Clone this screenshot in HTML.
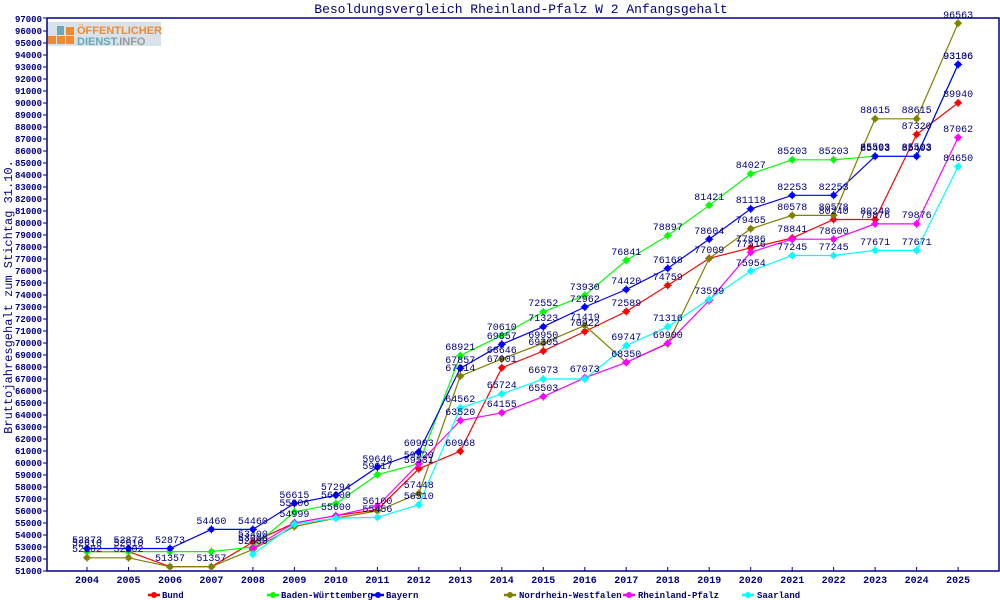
<!DOCTYPE html>
<html><head><meta charset="utf-8"><style>
body{margin:0;background:#fff}
svg{display:block}
text{font-family:"Liberation Mono",monospace;fill:#000080}
.v{font-size:10px;text-anchor:middle}
</style></head><body>
<svg width="1000" height="600" viewBox="0 0 1000 600" xmlns="http://www.w3.org/2000/svg">
<defs>
<marker id="mr" markerUnits="userSpaceOnUse" markerWidth="12" markerHeight="12" refX="6" refY="6"><circle cx="6" cy="6" r="3" fill="#f00"/><path d="M6 2V10M2 6H10" stroke="#f00" stroke-width="1.2"/></marker>
<marker id="mg" markerUnits="userSpaceOnUse" markerWidth="12" markerHeight="12" refX="6" refY="6"><circle cx="6" cy="6" r="3" fill="#0f0"/><path d="M6 2V10M2 6H10" stroke="#0f0" stroke-width="1.2"/></marker>
<marker id="mb" markerUnits="userSpaceOnUse" markerWidth="12" markerHeight="12" refX="6" refY="6"><circle cx="6" cy="6" r="3" fill="#00f"/><path d="M6 2V10M2 6H10" stroke="#00f" stroke-width="1.2"/></marker>
<marker id="mo" markerUnits="userSpaceOnUse" markerWidth="12" markerHeight="12" refX="6" refY="6"><circle cx="6" cy="6" r="3" fill="#808000"/><path d="M6 2V10M2 6H10" stroke="#808000" stroke-width="1.2"/></marker>
<marker id="mm" markerUnits="userSpaceOnUse" markerWidth="12" markerHeight="12" refX="6" refY="6"><circle cx="6" cy="6" r="3" fill="#f0f"/><path d="M6 2V10M2 6H10" stroke="#f0f" stroke-width="1.2"/></marker>
<marker id="mc" markerUnits="userSpaceOnUse" markerWidth="12" markerHeight="12" refX="6" refY="6"><circle cx="6" cy="6" r="3" fill="#0ff"/><path d="M6 2V10M2 6H10" stroke="#0ff" stroke-width="1.2"/></marker>
</defs>
<text x="521" y="13" style="font-size:13px" text-anchor="middle">Besoldungsvergleich Rheinland-Pfalz W 2 Anfangsgehalt</text>
<text transform="translate(12,297) rotate(-90)" style="font-size:12px" text-anchor="middle">Bruttojahresgehalt zum Stichtag 31.10.</text>
<rect x="47" y="22" width="114" height="24" fill="#d8e2ea"/>
<rect x="48" y="36" width="8" height="8" fill="#f08a30"/><rect x="57" y="36" width="8" height="8" fill="#f08a30"/><rect x="66" y="36" width="8" height="8" fill="#f08a30"/><rect x="66" y="27" width="8" height="8" fill="#f08a30"/><rect x="57" y="26" width="7" height="9" fill="#6aa8b8"/>
<text x="77" y="34" style="font-family:'Liberation Sans',sans-serif;font-size:11px;font-weight:bold;fill:#f08a30">ÖFFENTLICHER</text>
<text x="77" y="45" style="font-family:'Liberation Sans',sans-serif;font-size:11px;font-weight:bold;fill:#6aa8b8">DIENST.<tspan style="fill:#999">INFO</tspan></text>
<rect x="47" y="18" width="952" height="553" fill="none" stroke="#000080" stroke-width="1.5"/>
<g stroke="#000080" stroke-width="1">
<path d="M43 571H47M43 559H47M43 547H47M43 535H47M43 523H47M43 511H47M43 499H47M43 487H47M43 475H47M43 463H47M43 451H47M43 439H47M43 427H47M43 415H47M43 403H47M43 391H47M43 379H47M43 367H47M43 355H47M43 343H47M43 331H47M43 319H47M43 307H47M43 295H47M43 283H47M43 271H47M43 259H47M43 247H47M43 235H47M43 223H47M43 211H47M43 199H47M43 187H47M43 175H47M43 163H47M43 151H47M43 139H47M43 127H47M43 115H47M43 103H47M43 91H47M43 79H47M43 67H47M43 55H47M43 43H47M43 31H47M43 18H47"/>
<path d="M87 567V571M128.5 567V571M170 567V571M211.4 567V571M252.9 567V571M294.4 567V571M335.9 567V571M377.4 567V571M418.8 567V571M460.3 567V571M501.8 567V571M543.3 567V571M584.8 567V571M626.2 567V571M667.7 567V571M709.2 567V571M750.7 567V571M792.2 567V571M833.6 567V571M875.1 567V571M916.6 567V571M958.1 567V571"/>
</g>
<g style="font-size:9px;font-weight:bold" text-anchor="end">
<text x="42" y="574">51000</text><text x="42" y="562">52000</text><text x="42" y="550">53000</text><text x="42" y="538">54000</text><text x="42" y="526">55000</text><text x="42" y="514">56000</text><text x="42" y="502">57000</text><text x="42" y="490">58000</text><text x="42" y="478">59000</text><text x="42" y="466">60000</text><text x="42" y="454">61000</text><text x="42" y="442">62000</text><text x="42" y="430">63000</text><text x="42" y="418">64000</text><text x="42" y="406">65000</text><text x="42" y="394">66000</text><text x="42" y="382">67000</text><text x="42" y="370">68000</text><text x="42" y="358">69000</text><text x="42" y="346">70000</text><text x="42" y="334">71000</text><text x="42" y="322">72000</text><text x="42" y="310">73000</text><text x="42" y="298">74000</text><text x="42" y="286">75000</text><text x="42" y="274">76000</text><text x="42" y="262">77000</text><text x="42" y="250">78000</text><text x="42" y="238">79000</text><text x="42" y="226">80000</text><text x="42" y="214">81000</text><text x="42" y="202">82000</text><text x="42" y="190">83000</text><text x="42" y="178">84000</text><text x="42" y="166">85000</text><text x="42" y="154">86000</text><text x="42" y="142">87000</text><text x="42" y="130">88000</text><text x="42" y="118">89000</text><text x="42" y="106">90000</text><text x="42" y="94">91000</text><text x="42" y="82">92000</text><text x="42" y="70">93000</text><text x="42" y="58">94000</text><text x="42" y="46">95000</text><text x="42" y="34">96000</text><text x="42" y="22">97000</text>
</g>
<g style="font-size:10px;font-weight:bold" text-anchor="middle">
<text x="87" y="583">2004</text><text x="128.5" y="583">2005</text><text x="170" y="583">2006</text><text x="211.4" y="583">2007</text><text x="252.9" y="583">2008</text><text x="294.4" y="583">2009</text><text x="335.9" y="583">2010</text><text x="377.4" y="583">2011</text><text x="418.8" y="583">2012</text><text x="460.3" y="583">2013</text><text x="501.8" y="583">2014</text><text x="543.3" y="583">2015</text><text x="584.8" y="583">2016</text><text x="626.2" y="583">2017</text><text x="667.7" y="583">2018</text><text x="709.2" y="583">2019</text><text x="750.7" y="583">2020</text><text x="792.2" y="583">2021</text><text x="833.6" y="583">2022</text><text x="875.1" y="583">2023</text><text x="916.6" y="583">2024</text><text x="958.1" y="583">2025</text>
</g>
<g fill="none" stroke-width="1.2">
<polyline stroke="#f00" marker-start="url(#mr)" marker-mid="url(#mr)" marker-end="url(#mr)" points="87,551.6 128.5,551.6 170,566.7 211.4,566.7 252.9,542.1 294.4,522.9 335.9,515.7 377.4,509.7 418.8,468.8 460.3,451.2 501.8,367.8 543.3,351 584.8,331.5 626.2,311.5 667.7,285.4 709.2,258.3 750.7,247.8 792.2,238 833.6,219.5 875.1,219.5 916.6,134.4 958.1,102.9"/>
<polyline stroke="#0f0" marker-start="url(#mg)" marker-mid="url(#mg)" marker-end="url(#mg)" points="87,551.6 128.5,551.6 170,551.6 211.4,551.6 252.9,547 294.4,512 335.9,503.7 377.4,474.6 418.8,463.8 460.3,355.6 501.8,335.3 543.3,311.9 584.8,295.3 626.2,260.4 667.7,235.6 709.2,205.3 750.7,173.9 792.2,159.8 833.6,159.8 875.1,156.2 916.6,156.2 958.1,64.8"/>
<polyline stroke="#00f" marker-start="url(#mb)" marker-mid="url(#mb)" marker-end="url(#mb)" points="87,548.5 128.5,548.5 170,548.5 211.4,529.4 252.9,529.4 294.4,503.5 335.9,495.3 377.4,467.1 418.8,451.9 460.3,368.3 501.8,344.3 543.3,326.7 584.8,307 626.2,289.5 667.7,268.4 709.2,239.1 750.7,208.9 792.2,195.3 833.6,195.3 875.1,156.3 916.6,156.3 958.1,64.4"/>
<polyline stroke="#808000" marker-start="url(#mo)" marker-mid="url(#mo)" marker-end="url(#mo)" points="87,557.8 128.5,557.8 170,566.7 211.4,566.7 252.9,549.4 294.4,526.5 335.9,518.1 377.4,510.9 418.8,493.5 460.3,376.1 501.8,358.9 543.3,343.2 584.8,325.5 626.2,362.4 667.7,343.8 709.2,258.4 750.7,228.8 792.2,215.4 833.6,215.4 875.1,118.8 916.6,118.8 958.1,23.2"/>
<polyline stroke="#f0f" marker-start="url(#mm)" marker-mid="url(#mm)" marker-end="url(#mm)" points="252.9,548.2 294.4,522.9 335.9,515.7 377.4,506.1 418.8,463.8 460.3,420.5 501.8,412.8 543.3,396.6 584.8,377.8 626.2,362.4 667.7,343.2 709.2,300.5 750.7,252.2 792.2,239.2 833.6,239.2 875.1,223.9 916.6,223.9 958.1,137.5"/>
<polyline stroke="#0ff" marker-start="url(#mc)" marker-mid="url(#mc)" marker-end="url(#mc)" points="252.9,554.2 294.4,524.1 335.9,518.1 377.4,517.4 418.8,504.8 460.3,408 501.8,393.9 543.3,379 584.8,379 626.2,345.6 667.7,326.8 709.2,299.3 750.7,271 792.2,255.5 833.6,255.5 875.1,250.4 916.6,250.4 958.1,166.5"/>
</g>
<g>
<text class="v" x="87" y="546">52610</text><text class="v" x="128.5" y="546">52610</text><text class="v" x="170" y="561">51357</text><text class="v" x="211.4" y="561">51357</text><text class="v" x="252.9" y="537">53400</text><text class="v" x="294.4" y="517">54999</text><text class="v" x="335.9" y="510">55600</text><text class="v" x="377.4" y="504">56100</text><text class="v" x="418.8" y="463">59531</text><text class="v" x="460.3" y="446">60968</text><text class="v" x="501.8" y="362">67901</text><text class="v" x="543.3" y="345">69305</text><text class="v" x="584.8" y="326">70922</text><text class="v" x="626.2" y="306">72589</text><text class="v" x="667.7" y="280">74759</text><text class="v" x="709.2" y="253">77009</text><text class="v" x="750.7" y="242">77886</text><text class="v" x="792.2" y="232">78841</text><text class="v" x="833.6" y="214">80240</text><text class="v" x="875.1" y="214">80240</text><text class="v" x="916.6" y="129">87320</text><text class="v" x="958.1" y="97">89940</text>
<text class="v" x="252.9" y="541">53000</text><text class="v" x="294.4" y="506">55906</text><text class="v" x="335.9" y="498">56600</text><text class="v" x="377.4" y="469">59017</text><text class="v" x="418.8" y="458">59920</text><text class="v" x="460.3" y="350">68921</text><text class="v" x="501.8" y="330">70610</text><text class="v" x="543.3" y="306">72552</text><text class="v" x="584.8" y="290">73930</text><text class="v" x="626.2" y="255">76841</text><text class="v" x="667.7" y="230">78897</text><text class="v" x="709.2" y="200">81421</text><text class="v" x="750.7" y="168">84027</text><text class="v" x="792.2" y="154">85203</text><text class="v" x="833.6" y="154">85203</text><text class="v" x="875.1" y="150">85503</text><text class="v" x="916.6" y="150">85503</text><text class="v" x="958.1" y="59">93106</text>
<text class="v" x="87" y="543">52873</text><text class="v" x="128.5" y="543">52873</text><text class="v" x="170" y="543">52873</text><text class="v" x="211.4" y="524">54460</text><text class="v" x="252.9" y="524">54460</text><text class="v" x="294.4" y="498">56615</text><text class="v" x="335.9" y="490">57294</text><text class="v" x="377.4" y="462">59646</text><text class="v" x="418.8" y="446">60903</text><text class="v" x="460.3" y="363">67857</text><text class="v" x="501.8" y="339">69857</text><text class="v" x="543.3" y="321">71323</text><text class="v" x="584.8" y="302">72962</text><text class="v" x="626.2" y="284">74420</text><text class="v" x="667.7" y="263">76168</text><text class="v" x="709.2" y="234">78604</text><text class="v" x="750.7" y="203">81118</text><text class="v" x="792.2" y="190">82253</text><text class="v" x="833.6" y="190">82253</text><text class="v" x="875.1" y="151">85493</text><text class="v" x="916.6" y="151">85493</text><text class="v" x="958.1" y="59">93136</text>
<text class="v" x="87" y="552">52102</text><text class="v" x="128.5" y="552">52102</text><text class="v" x="252.9" y="544">52800</text><text class="v" x="418.8" y="488">57448</text><text class="v" x="460.3" y="371">67214</text><text class="v" x="501.8" y="353">68646</text><text class="v" x="543.3" y="338">69950</text><text class="v" x="584.8" y="320">71419</text><text class="v" x="626.2" y="357">68350</text><text class="v" x="667.7" y="338">69900</text><text class="v" x="750.7" y="223">79465</text><text class="v" x="792.2" y="210">80578</text><text class="v" x="833.6" y="210">80578</text><text class="v" x="875.1" y="113">88615</text><text class="v" x="916.6" y="113">88615</text><text class="v" x="958.1" y="18">96563</text>
<text class="v" x="460.3" y="415">63520</text><text class="v" x="501.8" y="407">64155</text><text class="v" x="543.3" y="391">65503</text><text class="v" x="584.8" y="372">67073</text><text class="v" x="750.7" y="247">77516</text><text class="v" x="833.6" y="234">78600</text><text class="v" x="875.1" y="218">79876</text><text class="v" x="916.6" y="218">79876</text><text class="v" x="958.1" y="132">87062</text>
<text class="v" x="418.8" y="499">56510</text><text class="v" x="377.4" y="512">55456</text><text class="v" x="460.3" y="402">64562</text><text class="v" x="501.8" y="388">65724</text><text class="v" x="543.3" y="373">66973</text><text class="v" x="626.2" y="340">69747</text><text class="v" x="667.7" y="321">71316</text><text class="v" x="709.2" y="294">73599</text><text class="v" x="750.7" y="266">75954</text><text class="v" x="792.2" y="250">77245</text><text class="v" x="833.6" y="250">77245</text><text class="v" x="875.1" y="245">77671</text><text class="v" x="916.6" y="245">77671</text><text class="v" x="958.1" y="161">84650</text>
</g>
<g stroke-width="2.5">
<line x1="148" y1="595" x2="160" y2="595" stroke="#f00"/><line x1="267" y1="595" x2="279" y2="595" stroke="#0f0"/><line x1="372" y1="595" x2="384" y2="595" stroke="#00f"/><line x1="504" y1="595" x2="516" y2="595" stroke="#808000"/><line x1="623" y1="595" x2="635" y2="595" stroke="#f0f"/><line x1="742" y1="595" x2="754" y2="595" stroke="#0ff"/>
</g>
<circle cx="154" cy="595" r="3" fill="#f00"/><circle cx="273" cy="595" r="3" fill="#0f0"/><circle cx="378" cy="595" r="3" fill="#00f"/><circle cx="510" cy="595" r="3" fill="#808000"/><circle cx="629" cy="595" r="3" fill="#f0f"/><circle cx="748" cy="595" r="3" fill="#0ff"/>
<g style="font-size:9px;font-weight:bold">
<text x="162" y="598">Bund</text><text x="281" y="598">Baden-Württemberg</text><text x="386" y="598">Bayern</text><text x="519" y="598">Nordrhein-Westfalen</text><text x="638" y="598">Rheinland-Pfalz</text><text x="757" y="598">Saarland</text>
</g>
</svg>
</body></html>
